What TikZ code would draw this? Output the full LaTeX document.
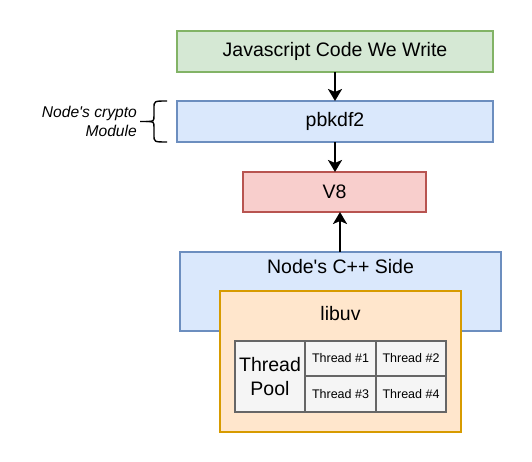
\documentclass[tikz,border=0pt]{standalone}
\usepackage{fontspec}
\setmainfont{Liberation Sans}
\usetikzlibrary{arrows.meta}
\definecolor{gfill}{HTML}{D5E8D4}\definecolor{gline}{HTML}{82B366}
\definecolor{bfill}{HTML}{DAE8FC}\definecolor{bline}{HTML}{6C8EBF}
\definecolor{rfill}{HTML}{F8CECC}\definecolor{rline}{HTML}{B85450}
\definecolor{ofill}{HTML}{FFE6CC}\definecolor{oline}{HTML}{D79B00}
\definecolor{kfill}{HTML}{F5F5F5}\definecolor{kline}{HTML}{666666}
\begin{document}
\begin{tikzpicture}[x=1pt,y=-1pt,
  box/.style={draw,line width=1.4pt,inner sep=0pt},
  cell/.style={draw=kline,fill=kfill,line width=1.4pt,inner sep=0pt},
  lbl/.style={font=\fontsize{19.5}{23}\selectfont,inner sep=0pt},
  small/.style={font=\fontsize{12.5}{15}\selectfont,inner sep=0pt},
  arr/.style={line width=2.6pt,-{Stealth[length=12pt,width=14pt,inset=3pt]}}]
\useasboundingbox (0,0) rectangle (532,462);
\fill[white] (0,0) rectangle (532,462);
% boxes
\draw[box,draw=gline,fill=gfill] (177,31) rectangle (493,72);
\node[lbl] (js) at (335,51.5) {Javascript Code We Write};
\coordinate (jsb) at (335,72);
\draw[box,draw=bline,fill=bfill] (177,101) rectangle (493,142);
\node[lbl] (pb) at (335,121.5) {pbkdf2};
\coordinate (pbt) at (335,101);\coordinate (pbb) at (335,142);
\draw[box,draw=rline,fill=rfill] (243,172) rectangle (426,212);
\node[lbl] (v8) at (334.5,192) {V8};
\coordinate (v8t) at (335,172);\coordinate (v8b) at (340,212);
\draw[box,draw=bline,fill=bfill] (180,252) rectangle (501,331);
\node[lbl] (cpp) at (340.5,267) {Node\textquotesingle s C++ Side};
\coordinate (cppt) at (340,252);
\draw[box,draw=oline,fill=ofill] (220,291) rectangle (461,432);
\node[lbl] (uv) at (340.5,314) {libuv};
% thread pool
\draw[cell] (235,341) rectangle (305,412);
\node[lbl,align=center,font=\fontsize{19.5}{24}\selectfont] (tp) at (270,376.5) {Thread\\Pool};
\draw[cell] (305,341) rectangle (376,376);
\draw[cell] (376,341) rectangle (446,376);
\draw[cell] (305,376) rectangle (376,412);
\draw[cell] (376,376) rectangle (446,412);
\node[small] (t1) at (340.5,358.5) {Thread \#1};
\node[small] (t2) at (411,358.5) {Thread \#2};
\node[small] (t3) at (340.5,394) {Thread \#3};
\node[small] (t4) at (411,394) {Thread \#4};
% arrows
\draw[arr] (jsb) -- (pbt);
\draw[arr] (pbb) -- (v8t);
\draw[arr] (cppt) -- (v8b);
% brace
\draw[line width=1.4pt] (167,101) .. controls (154,101) .. (154,108) -- (154,115)
  .. controls (154,121.5) .. (146,121.5) -- (140,121.5);
\draw[line width=1.4pt] (167,142) .. controls (154,142) .. (154,135) -- (154,128)
  .. controls (154,121.5) .. (146,121.5);
\node[font=\itshape\fontsize{15.6}{19}\selectfont,align=right,anchor=east,inner sep=0pt] (cr) at (137,121) {Node\textquotesingle s crypto\\Module};
\end{tikzpicture}
\end{document}
